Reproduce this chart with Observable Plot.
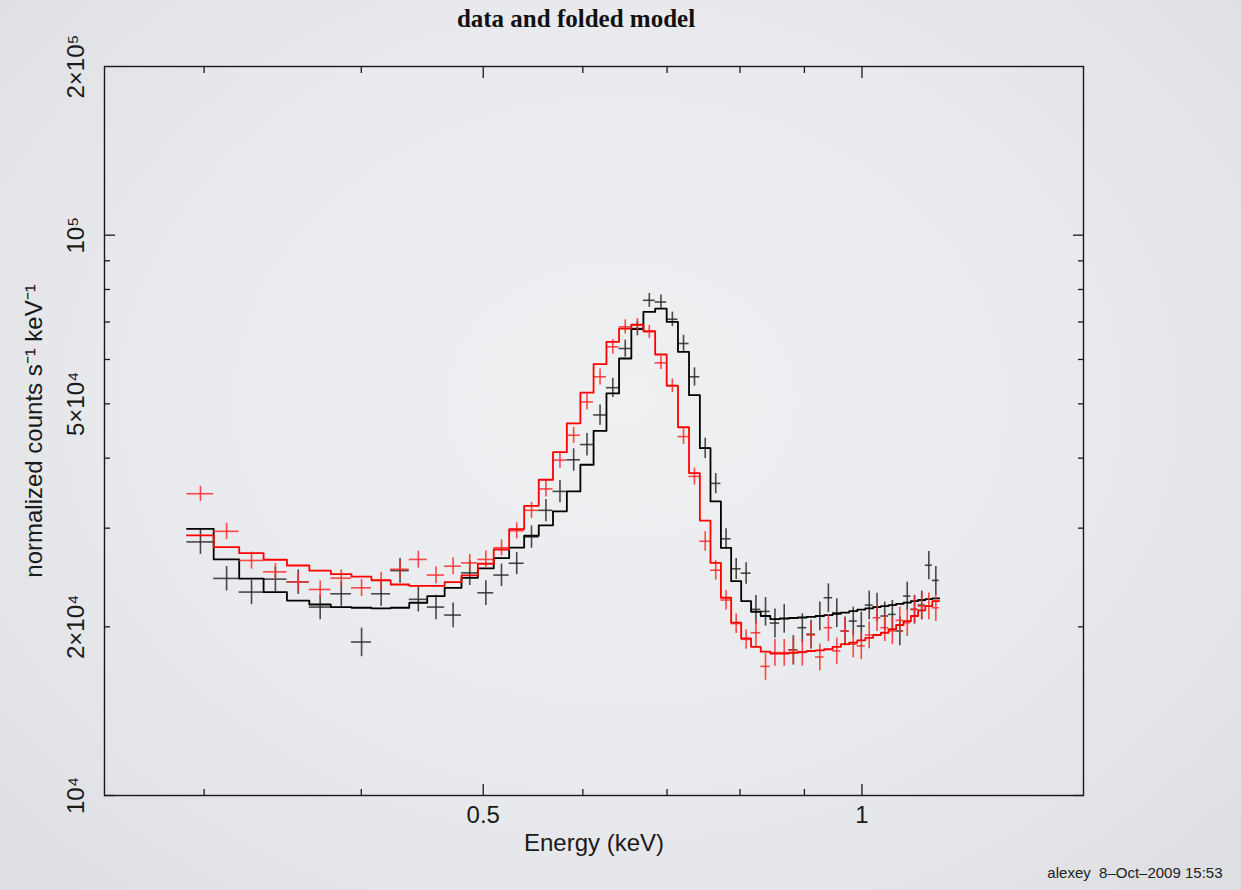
<!DOCTYPE html>
<html>
<head>
<meta charset="utf-8">
<script src="https://cdn.jsdelivr.net/npm/d3@7"></script>
<script src="https://cdn.jsdelivr.net/npm/@observablehq/plot@0.6"></script>
<style>
  html, body { margin: 0; padding: 0; }
  body {
    width: 1241px; height: 890px; overflow: hidden;
    background: radial-gradient(ellipse at 50% 45%, #eef0f2 0%, #e8eaed 55%, #dcdee2 100%);
  }
  #chart svg { display: block; }
</style>
</head>
<body>
<div id="chart"></div>
<script>
// ---- data ----
const energy = [0.2980, 0.3126, 0.3272, 0.3418, 0.3564, 0.3710, 0.3856, 0.4002, 0.4148, 0.4294,
  0.4440, 0.4586, 0.4732, 0.4878, 0.5024, 0.5170, 0.5316, 0.5462, 0.5608, 0.5754,
  0.5900, 0.6046, 0.6192, 0.6338, 0.6484, 0.6630, 0.6776, 0.6922, 0.7068, 0.7214,
  0.7360, 0.7506, 0.7652, 0.7798, 0.7944, 0.8090, 0.8236, 0.8382, 0.8528, 0.8674,
  0.8820, 0.8966, 0.9112, 0.9258, 0.9404, 0.9550, 0.9696, 0.9842, 0.9988, 1.0134,
  1.0280, 1.0426, 1.0572, 1.0718, 1.0864, 1.1010, 1.1156, 1.1302, 1.1448];
const binHalfWidth = 0.0073;

const blackData = [28350, 24400, 23070, 24330, 24060, 21690, 22910, 18790, 22910, 25200,
  22390, 21690, 20990, 24960, 23000, 24740, 25970, 28950, 32280, 34890,
  39730, 42300, 47770, 53430, 62770, 68130, 76520, 75990, 70790, 64070,
  55880, 41670, 36060, 28720, 25390, 24930, 21490, 21310, 20310, 20710,
  18190, 19930, 19400, 20910, 22540, 21190, 19660, 20480, 20060, 21870,
  21690, 20910, 21050, 19660, 22690, 21490, 21870, 25760, 24200];
const blackErr = [1420, 1220, 1160, 1220, 1210, 1090, 1150, 1100, 1150, 1270,
  1130, 1090, 1060, 1260, 1160, 1140, 1190, 1330, 1480, 1600,
  1830, 1950, 2000, 2100, 2200, 2000, 2200, 2200, 2100, 2200,
  2100, 1750, 1500, 1200, 1100, 1100, 1250, 1250, 1200, 1220,
  1100, 1180, 1150, 1230, 1320, 1250, 1160, 1200, 1180, 1290,
  1280, 1230, 1240, 1160, 1340, 1270, 1290, 1500, 1420];
const blackModel = [29920, 26380, 24380, 23070, 22280, 21920, 21690, 21630, 21580, 21630,
  22080, 22690, 23480, 24460, 25420, 26520, 27700, 29080, 30350, 32150,
  34890, 38930, 44740, 52190, 60240, 67960, 72950, 73940, 70020, 61930,
  51810, 41670, 33490, 27660, 24130, 22230, 21280, 20910, 20650, 20680,
  20740, 20780, 20830, 20910, 20990, 21100, 21210, 21340, 21470, 21580,
  21690, 21780, 21870, 21980, 22100, 22230, 22330, 22420, 22480];

const redData = [34560, 29610, 26270, 25070, 24060, 23320, 24430, 23480, 24180, 25340,
  26380, 24740, 25660, 26010, 26380, 27680, 29680, 32280, 35250, 39670,
  43950, 50390, 55880, 63210, 68610, 69090, 67220, 59180, 53870, 43710,
  37110, 28430, 25240, 22330, 20270, 19000, 19520, 17000, 17990, 17990,
  18150, 18000, 19340, 17670, 19930, 18110, 19660, 18620, 18490, 19340,
  20760, 19930, 19660, 20540, 20340, 21490, 21780, 21780, 21630];
const redErr = [1070, 1000, 920, 880, 840, 820, 850, 820, 850, 890,
  920, 870, 900, 910, 920, 910, 980, 1070, 1160, 1310,
  1450, 1660, 1840, 1900, 2000, 1870, 1800, 1600, 1500, 1400,
  1300, 1140, 1010, 900, 810, 760, 1080, 940, 990, 990,
  1000, 990, 1070, 970, 1100, 990, 1080, 1020, 1010, 1070,
  1140, 1100, 1080, 1130, 1120, 1180, 1200, 1200, 1190];
const redModel = [29130, 27740, 27070, 26350, 25730, 25200, 24830, 24580, 24230, 23800,
  23670, 23670, 24030, 24700, 25920, 27480, 29890, 32880, 36600, 41000,
  46160, 52350, 58870, 64510, 68130, 69250, 67420, 61240, 53870, 45420,
  37610, 30950, 26010, 22540, 20340, 19080, 18420, 18060, 17920, 17920,
  17970, 18040, 18110, 18160, 18240, 18420, 18620, 18740, 18920, 19120,
  19340, 19520, 19800, 20150, 20480, 20910, 21400, 21780, 22230];

const xMajorTicks = [0.5, 1];
const xMinorTicks = [0.3, 0.4, 0.6, 0.7, 0.8, 0.9];
const yMajorTicks = [1e4, 1e5];
const yMinorTicks = [2e4, 3e4, 4e4, 5e4, 6e4, 7e4, 8e4, 9e4];
const xTickValues = [0.5, 1];
const xTickLabels = ["0.5", "1"];
const yTickValues = [1e4, 2e4, 5e4, 1e5, 2e5];
const yTickLabels = ["10⁴", "2×10⁴", "5×10⁴", "10⁵", "2×10⁵"];

const titleText = "data and folded model";
const xLabel = "Energy (keV)";
const yLabel = "normalized counts s⁻¹ keV⁻¹";
const footer = "alexey  8–Oct–2009 15:53";

// ---- build tables ----
const points = (vals, errs) => energy.map((e, i) => ({
  e, lo: e - binHalfWidth, hi: e + binHalfWidth, y: vals[i], y1: vals[i] - errs[i], y2: vals[i] + errs[i]
}));
const steps = (vals) => energy.flatMap((e, i) => [
  {x: e - binHalfWidth, y: vals[i]}, {x: e + binHalfWidth, y: vals[i]}
]);
const blackPts = points(blackData, blackErr);
const redPts = points(redData, redErr);
const xT = xTickValues.map((v, i) => ({v, t: xTickLabels[i]}));
const yT = yTickValues.map((v, i) => ({v, t: yTickLabels[i]}));

const sans = "'Liberation Sans', Arial, Helvetica, sans-serif";
const axisColor = "#1a1a1a";
const blackCross = "#2a2a2a";
const redCross = "#ff2a2a";

const chart = Plot.plot({
  width: 1241,
  height: 890,
  marginLeft: 104,
  marginRight: 158,
  marginTop: 66,
  marginBottom: 95,
  x: {type: "log", domain: [0.25, 1.5]},
  y: {type: "log", domain: [1e4, 2e5]},
  style: {background: "transparent", fontFamily: sans, color: axisColor},
  marks: [
    // crosses (data) and folded models
    Plot.ruleY(blackPts, {y: "y", x1: "lo", x2: "hi", stroke: blackCross, strokeWidth: 1.6, strokeOpacity: 0.85}),
    Plot.ruleX(blackPts, {x: "e", y1: "y1", y2: "y2", stroke: blackCross, strokeWidth: 1.6, strokeOpacity: 0.85}),
    Plot.line(steps(blackModel), {x: "x", y: "y", stroke: "#000", strokeWidth: 1.8}),
    Plot.ruleY(redPts, {y: "y", x1: "lo", x2: "hi", stroke: redCross, strokeWidth: 1.6, strokeOpacity: 0.85}),
    Plot.ruleX(redPts, {x: "e", y1: "y1", y2: "y2", stroke: redCross, strokeWidth: 1.6, strokeOpacity: 0.85}),
    Plot.line(steps(redModel), {x: "x", y: "y", stroke: "#ff0000", strokeWidth: 1.8}),

    // frame and inward ticks
    Plot.frame({stroke: axisColor, strokeWidth: 1.4}),
    Plot.axisX(xMajorTicks, {anchor: "bottom", tickSize: -11, fill: "none", stroke: axisColor, strokeWidth: 1.3}),
    Plot.axisX(xMinorTicks, {anchor: "bottom", tickSize: -6, fill: "none", stroke: axisColor, strokeWidth: 1.3}),
    Plot.axisX(xMajorTicks, {anchor: "top", tickSize: -11, fill: "none", stroke: axisColor, strokeWidth: 1.3}),
    Plot.axisX(xMinorTicks, {anchor: "top", tickSize: -6, fill: "none", stroke: axisColor, strokeWidth: 1.3}),
    Plot.axisY(yMajorTicks, {anchor: "left", tickSize: -11, fill: "none", stroke: axisColor, strokeWidth: 1.3}),
    Plot.axisY(yMinorTicks, {anchor: "left", tickSize: -6, fill: "none", stroke: axisColor, strokeWidth: 1.3}),
    Plot.axisY(yMajorTicks, {anchor: "right", tickSize: -11, fill: "none", stroke: axisColor, strokeWidth: 1.3}),
    Plot.axisY(yMinorTicks, {anchor: "right", tickSize: -6, fill: "none", stroke: axisColor, strokeWidth: 1.3}),

    // tick labels
    Plot.text(xT, {x: "v", text: "t", frameAnchor: "bottom", lineAnchor: "middle", dy: 20, fontSize: 24, fill: axisColor}),
    Plot.text(yT, {y: "v", text: "t", frameAnchor: "left", textAnchor: "middle", lineAnchor: "middle", dx: -28, rotate: -90, fontSize: 24, fill: axisColor}),

    // axis labels, title, footer
    Plot.text([xLabel], {frameAnchor: "bottom", lineAnchor: "middle", dy: 48, fontSize: 24, fill: axisColor}),
    Plot.text([yLabel], {frameAnchor: "left", textAnchor: "middle", lineAnchor: "middle", dx: -70, rotate: -90, fontSize: 24, fill: axisColor}),
    Plot.text([titleText], {frameAnchor: "top", lineAnchor: "middle", dy: -48, dx: -18, fontSize: 25, fontWeight: "bold",
      fontFamily: "'Liberation Serif', 'Times New Roman', serif", fill: "#111"}),
    Plot.text([footer], {frameAnchor: "bottom-right", textAnchor: "end", lineAnchor: "middle", dx: 139, dy: 78, fontSize: 15, fill: "#222"})
  ]
});
document.getElementById("chart").appendChild(chart);
</script>
</body>
</html>
